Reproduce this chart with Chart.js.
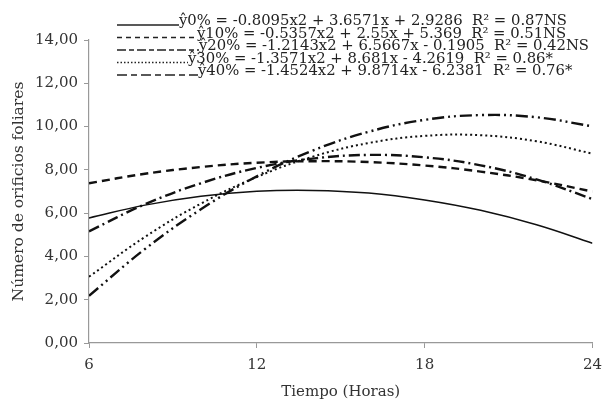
<!DOCTYPE html>
<html>
<head>
<meta charset="utf-8">
<script src="https://cdn.jsdelivr.net/npm/chart.js@4"></script>
<style>
html,body{margin:0;padding:0;background:#fff}
#wrap{width:610px;height:401px}
</style>
</head>
<body>
<div id="wrap"><canvas id="grafico" width="610" height="401"></canvas></div>
<script>
let horas = [6,8,10,12,14,16,18,20,22,24]

let s0  = [5.78,6.37,6.78,7.01,7.05,6.93,6.61,6.13,5.46,4.61]
let s10 = [7.38,7.82,8.13,8.33,8.40,8.36,8.20,7.92,7.52,7.00]
let s20 = [5.16,6.41,7.38,8.09,8.52,8.69,8.58,8.21,7.56,6.65]
let s30 = [3.06,4.90,6.44,7.67,8.61,9.24,9.57,9.60,9.32,8.75]
let s40 = [2.18,4.34,6.18,7.70,8.89,9.76,10.31,10.53,10.43,10.01]

let etiquetas = [
"ŷ0% = -0.8095x2 + 3.6571x + 2.9286  R² = 0.87NS",
"ŷ10% = -0.5357x2 + 2.55x + 5.369  R² = 0.51NS",
"ŷ20% = -1.2143x2 + 6.5667x - 0.1905  R² = 0.42NS",
"ŷ30% = -1.3571x2 + 8.681x - 4.2619  R² = 0.86*",
"ŷ40% = -1.4524x2 + 9.8714x - 6.2381  R² = 0.76*"
]

let yTicks = [0,2,4,6,8,10,12,14]
let xTicks = [6,12,18,24]

function pares(vals){
return horas.map((h,i)=>({x:h,y:vals[i]}))
}

let estilos = [
{dash:[],w:1.5},
{dash:[8,5],w:2.4},
{dash:[11,4,2,4],w:2.4},
{dash:[2,3],w:2},
{dash:[12,4,2,4,2,4],w:2.4}
]

// leyenda: inicio de la linea, fin de la linea, y, patron
let leyendaPos = [
[117,179,25,[]],
[117,197,37.5,[5,4]],
[117,199,50,[9,3,5,3]],
[117,188,62.5,[1.5,2]],
[117,198,75,[10,4,6,4]]
]

let series = [s0,s10,s20,s30,s40]

let datasets = series.map((s,i)=>({
label:etiquetas[i],
data:pares(s),
borderColor:"#111",
borderWidth:estilos[i].w,
borderDash:estilos[i].dash,
pointRadius:0,
tension:0.4,
fill:false
}))

let leyenda = {
id:"leyenda",
afterDraw(chart){
let ctx = chart.ctx
ctx.save()
ctx.font = "14.8px 'DejaVu Serif'"
ctx.fillStyle = "#222"
ctx.textBaseline = "alphabetic"
datasets.forEach((d,i)=>{
let p = leyendaPos[i]
ctx.strokeStyle = "#222"
ctx.lineWidth = 1.3
ctx.setLineDash(p[3])
ctx.beginPath()
ctx.moveTo(p[0],p[2])
ctx.lineTo(p[1],p[2])
ctx.stroke()
ctx.setLineDash([])
ctx.fillText(d.label,p[1],p[2])
})
ctx.restore()
}
}

let ctx = document.getElementById("grafico")

new Chart(ctx,{
type:"line",
data:{datasets:datasets},
plugins:[leyenda],
options:{
responsive:false,
animation:false,
layout:{padding:{left:0,right:15,top:40,bottom:0}},
plugins:{legend:{display:false},tooltip:{enabled:false}},
scales:{
x:{
type:"linear",
min:6,max:24,
afterBuildTicks(s){s.ticks = xTicks.map(v=>({value:v}))},
afterFit(s){s.height = 58},
grid:{drawOnChartArea:false,drawTicks:true,tickLength:5,color:"#999"},
border:{color:"#999",width:1.2},
ticks:{color:"#333",font:{family:"DejaVu Serif",size:15},padding:8},
title:{display:true,text:"Tiempo (Horas)",color:"#333",font:{family:"DejaVu Serif",size:15},padding:{top:0,bottom:0}}
},
y:{
min:0,max:14,
afterBuildTicks(s){s.ticks = yTicks.map(v=>({value:v}))},
afterFit(s){s.width = 89},
grid:{drawOnChartArea:false,drawTicks:true,tickLength:5,color:"#999"},
border:{color:"#999",width:1.2},
ticks:{color:"#333",font:{family:"DejaVu Serif",size:15},padding:6,
callback:v=>v.toFixed(2).replace(".",",")},
title:{display:true,text:"Número de orificios foliares",color:"#333",font:{family:"DejaVu Serif",size:15.5},padding:{top:10,bottom:4}}
}
}
}
})
</script>
</body>
</html>
